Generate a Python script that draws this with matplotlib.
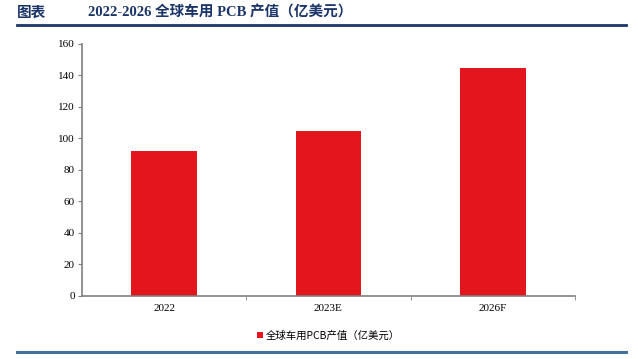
import matplotlib.pyplot as plt
from matplotlib.lines import Line2D

plt.rcParams['font.family'] = ['Liberation Serif', 'Noto Sans CJK SC', 'DejaVu Sans']

# data
categories = ['2022', '2023E', '2026F']
values = [92, 105, 145]
series_name = '全球车用PCB产值（亿美元）'
title_tag = '图表'
title_text = '2022-2026 全球车用 PCB 产值（亿美元）'

bar_color = '#E3151D'
axis_color = '#7F7F7F'
navy = '#1B3568'

fig = plt.figure(figsize=(6.38, 3.59), dpi=100)
ax = fig.add_axes([0.1285, 0.1755, 0.7725, 0.702])

x = range(len(categories))
ax.bar(x, values, width=0.4, color=bar_color, label=series_name)

ax.set_xlim(-0.5, len(categories) - 0.5)
ax.set_ylim(0, 160)
ax.set_yticks(range(0, 161, 20))
ax.set_xticks(x)
ax.set_xticklabels(categories)
# category separators as minor ticks
ax.set_xticks([i + 0.5 for i in range(len(categories))], minor=True)
ax.tick_params(axis='x', which='major', length=0, pad=6, labelsize=8)
ax.tick_params(axis='x', which='minor', length=3, color=axis_color, direction='out')
ax.tick_params(axis='y', length=3, color=axis_color, labelsize=8, pad=2)

for s in ['top', 'right']:
    ax.spines[s].set_visible(False)
for s in ['left', 'bottom']:
    ax.spines[s].set_color(axis_color)
    ax.spines[s].set_linewidth(1.2)

leg = ax.legend(loc='upper center', bbox_to_anchor=(0.5, -0.1), frameon=False,
                handlelength=0.6, handleheight=0.6, handletextpad=0.3,
                prop={'family': ['Noto Sans CJK SC'], 'size': 7.5})

# header and footer
fig.add_artist(Line2D([0.027, 0.981], [1 - 24.5 / 359] * 2, color=navy, lw=2))
fig.add_artist(Line2D([0.027, 0.981], [1 - 352 / 359] * 2, color='#41719C', lw=2.2))
fig.text(0.027, 1 - 12 / 359, title_tag, color=navy, fontsize=10.5, fontweight='bold',
         va='center', family=['Noto Sans CJK SC'])
fig.text(0.138, 1 - 12 / 359, title_text, color=navy, fontsize=10.5, fontweight='bold',
         va='center', family=['Liberation Serif', 'Noto Sans CJK SC'])

fig.savefig('out.png', dpi=100)
